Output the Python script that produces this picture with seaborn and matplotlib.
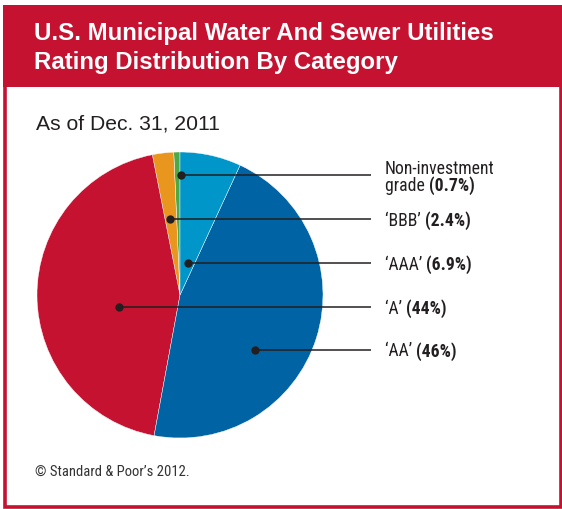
import matplotlib
matplotlib.use("Agg")
import matplotlib.pyplot as plt
from matplotlib.patches import Rectangle
import seaborn as sns

# Rating distribution, share of rated utilities (%)
categories = ["Non-investment\ngrade", "\u2018BBB\u2019", "\u2018A\u2019", "\u2018AA\u2019", "\u2018AAA\u2019"]
shares = [0.7, 2.4, 44.0, 46.0, 6.9]
value_labels = ["(0.7%)", "(2.4%)", "(44%)", "(46%)", "(6.9%)"]
slice_colors = ["#4CA947", "#E8961E", "#C41230", "#0063A3", "#0096C9"]

# label order, top to bottom, as indices into the lists above
label_order = [0, 1, 4, 2, 3]

title_lines = ["U.S. Municipal Water And Sewer Utilities",
               "Rating Distribution By Category"]
subtitle = "As of Dec. 31, 2011"
source = "\u00a9 Standard & Poor\u2019s 2012."

sns.set_theme(style="white")
narrow = ["Roboto Condensed", "Archivo Narrow", "DejaVu Sans"]
plt.rcParams["font.family"] = ["Liberation Sans", "DejaVu Sans"]

W, H = 562, 509
fig = plt.figure(figsize=(W / 100, H / 100), dpi=100)
fig.patch.set_facecolor("white")
ax = fig.add_axes([0, 0, 1, 1])
ax.set_xlim(0, W)
ax.set_ylim(0, H)
ax.set_aspect("equal")
ax.axis("off")

RED = "#C41230"
INK = "#231F20"

def yy(y):
    # convert a top-down pixel row into the upward axis coordinate
    return H - y

# frame and title band
ax.add_patch(Rectangle((5, yy(507)), 555.5, 507 - 40, fill=False,
                       edgecolor=RED, linewidth=2.6, zorder=1))
ax.add_patch(Rectangle((3, yy(87)), W - 3, 87 - 5, facecolor=RED,
                       edgecolor="none", zorder=2))
ax.text(34, yy(39.5), title_lines[0], color="white", fontsize=17.3,
        fontweight="bold", va="baseline", ha="left", zorder=3)
ax.text(34, yy(69), title_lines[1], color="white", fontsize=17.3,
        fontweight="bold", va="baseline", ha="left", zorder=3)

ax.text(36, yy(129), subtitle, color=INK, fontsize=15.2,
        va="baseline", ha="left")
ax.text(35, yy(476), source, color="#333333", fontsize=10.5,
        family=narrow, va="baseline", ha="left")

# pie
cx, cy, R = 180, yy(295), 143
wedges, _ = ax.pie(shares, colors=slice_colors, startangle=90,
                   counterclock=True, center=(cx, cy), radius=R,
                   wedgeprops=dict(edgecolor="white", linewidth=0.3))
for w in wedges:
    w.set_zorder(4)
ax.set_xlim(0, W)
ax.set_ylim(0, H)

# leader lines from a dot inside each slice to its label
label_rows = [175, 219, 263, 307, 350]
dot_cols = [181, 170, 188, 119, 255]
line_end = 371
text_x = 385
fs = 12.7
for row, col, idx in zip(label_rows, dot_cols, label_order):
    y = yy(row)
    ax.plot([col, line_end], [y, y], color=INK, linewidth=1.1,
            solid_capstyle="butt", zorder=5)
    ax.scatter([col], [y], s=36, color=INK, zorder=6, linewidths=0)
    name = categories[idx]
    if "\n" in name:
        first, second = name.split("\n")
        ax.text(text_x, y + 1.5, first, fontsize=fs, family=narrow,
                color=INK, va="baseline", ha="left")
        base_y = y - 16
        t = ax.text(text_x, base_y, second + " ", fontsize=fs, family=narrow,
                    color=INK, va="baseline", ha="left")
    else:
        base_y = y - 6.5
        t = ax.text(text_x, base_y, name + " ", fontsize=fs, family=narrow,
                    color=INK, va="baseline", ha="left")
    fig.canvas.draw()
    bb = t.get_window_extent()
    ax.text(bb.x1, base_y, value_labels[idx], fontsize=fs, family=narrow,
            fontweight="bold", color=INK, va="baseline", ha="left")

fig.savefig("out.png", dpi=100, facecolor="white")
